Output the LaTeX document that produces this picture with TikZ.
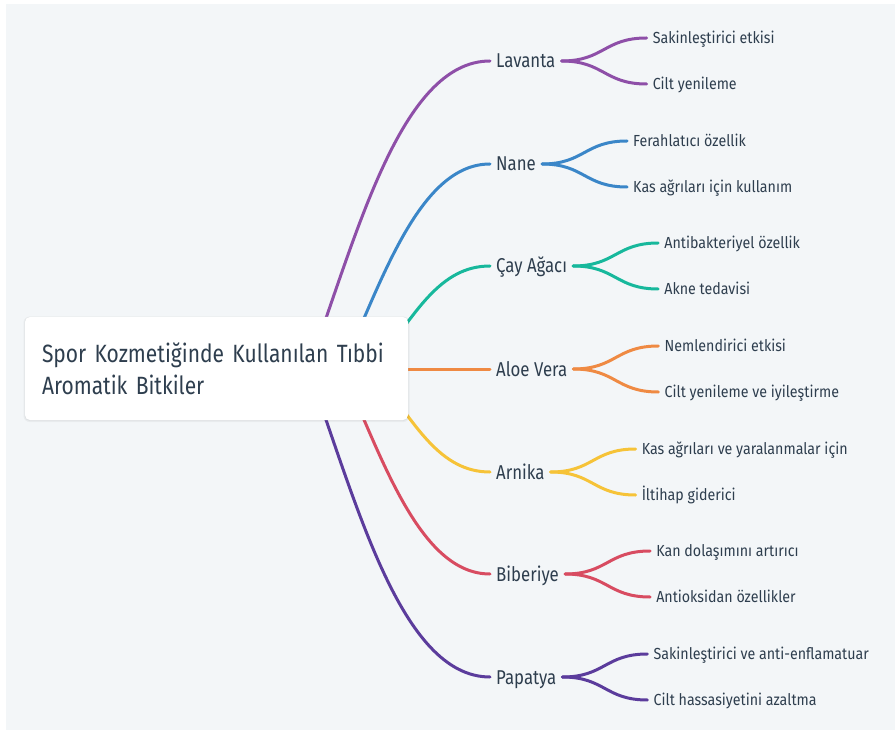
\documentclass[tikz,border=0pt]{standalone}
\usepackage{fontspec}
\setmainfont{Fira Sans}[FakeStretch=0.84]
\newfontfamily\brfont{Fira Sans}[FakeStretch=0.84]
\newfontfamily\leaffont{Fira Sans}[FakeStretch=0.89]
\usetikzlibrary{calc}
\definecolor{bg}{HTML}{F3F6F8}
\definecolor{txt}{HTML}{2E3E4E}
\definecolor{cA}{HTML}{8E4FA8}
\definecolor{cB}{HTML}{3A86C8}
\definecolor{cC}{HTML}{17B89C}
\definecolor{cD}{HTML}{EF8A43}
\definecolor{cE}{HTML}{F6C338}
\definecolor{cF}{HTML}{D84C61}
\definecolor{cG}{HTML}{5B3C9C}
\tikzset{
  lbl/.style={inner xsep=6pt, inner ysep=0pt, anchor=west, text height=14pt, text depth=0pt,
    font=\brfont\fontsize{20}{20}\selectfont, text=txt},
  sub/.style={inner xsep=6pt, inner ysep=0pt, anchor=west, text height=11.3pt, text depth=0pt,
    font=\leaffont\fontsize{16}{16}\selectfont, text=txt},
  br/.style={line width=3pt, line cap=round},
  rootbox/.style={rectangle, rounded corners=5pt, fill=white, minimum width=383pt, minimum height=103pt,
    text width=349pt, inner xsep=17pt, align=left, font=\fontsize{25}{32}\selectfont, text=txt},
}
\begin{document}
\begin{tikzpicture}[x=1pt,y=-1pt]
\fill[white] (0,0) rectangle (895,730);
\useasboundingbox (0,0) rectangle (895,730);
\fill[bg] (6,4) rectangle (895,730);

% branch labels
\node[lbl] (lav) at (490,61) {Lavanta};
\node[lbl] (nan) at (490,164) {Nane};
\node[lbl] (cay) at (490,266) {Çay Ağacı};
\node[lbl] (alo) at (490,369) {Aloe Vera};
\node[lbl] (arn) at (490,472) {Arnika};
\node[lbl] (bib) at (490,574) {Biberiye};
\node[lbl] (pap) at (490,677) {Papatya};

% leaves
\node[sub] (lav1) at ($(lav.east)+(85,-23)$) {Sakinleştirici etkisi};
\node[sub] (lav2) at ($(lav.east)+(85,23)$) {Cilt yenileme};
\node[sub] (nan1) at ($(nan.east)+(85,-23)$) {Ferahlatıcı özellik};
\node[sub] (nan2) at ($(nan.east)+(85,23)$) {Kas ağrıları için kullanım};
\node[sub] (cay1) at ($(cay.east)+(85,-23)$) {Antibakteriyel özellik};
\node[sub] (cay2) at ($(cay.east)+(85,23)$) {Akne tedavisi};
\node[sub] (alo1) at ($(alo.east)+(85,-23)$) {Nemlendirici etkisi};
\node[sub] (alo2) at ($(alo.east)+(85,23)$) {Cilt yenileme ve iyileştirme};
\node[sub] (arn1) at ($(arn.east)+(85,-23)$) {Kas ağrıları ve yaralanmalar için};
\node[sub] (arn2) at ($(arn.east)+(85,23)$) {İltihap giderici};
\node[sub] (bib1) at ($(bib.east)+(85,-23)$) {Kan dolaşımını artırıcı};
\node[sub] (bib2) at ($(bib.east)+(85,23)$) {Antioksidan özellikler};
\node[sub] (pap1) at ($(pap.east)+(85,-23)$) {Sakinleştirici ve anti-enflamatuar};
\node[sub] (pap2) at ($(pap.east)+(85,23)$) {Cilt hassasiyetini azaltma};

% leaf connectors
\foreach \p/\c in {lav/cA,nan/cB,cay/cC,alo/cD,arn/cE,bib/cF,pap/cG}{
  \draw[br,\c] (\p.east) .. controls +(42.5,0) and +(-42.5,0) .. (\p1.west);
  \draw[br,\c] (\p.east) .. controls +(42.5,0) and +(-42.5,0) .. (\p2.west);
}

% root connectors (start points hidden behind the root box)
\coordinate (s1) at (308,369);
\coordinate (s2) at (342,369);
\coordinate (s3) at (374,369);
\coordinate (s4) at (300,369);
\coordinate (s5) at (374,369);
\coordinate (s6) at (342,369);
\coordinate (s7) at (308,369);
\draw[br,cA] (s1) .. controls (356,239) and (400,61) .. (lav.west);
\draw[br,cB] (s2) .. controls (382.5,279) and (420,164) .. (nan.west);
\draw[br,cC] (s3) .. controls (415,313) and (440,266) .. (cay.west);
\draw[br,cD] (s4) -- (alo.west);
\draw[br,cE] (s5) .. controls (415,425) and (440,472) .. (arn.west);
\draw[br,cF] (s6) .. controls (382.5,459) and (420,574) .. (bib.west);
\draw[br,cG] (s7) .. controls (356,499) and (400,677) .. (pap.west);

% root
\fill[black,opacity=0.04,rounded corners=6pt] (23.5,316.5) rectangle (409.5,422);
\fill[black,opacity=0.04,rounded corners=5pt] (24.5,317) rectangle (408.5,421);
\node[rootbox] (root) at (216.5,368.5) {Spor Kozmetiğinde Kullanılan Tıbbi\\Aromatik Bitkiler};
\end{tikzpicture}
\end{document}
